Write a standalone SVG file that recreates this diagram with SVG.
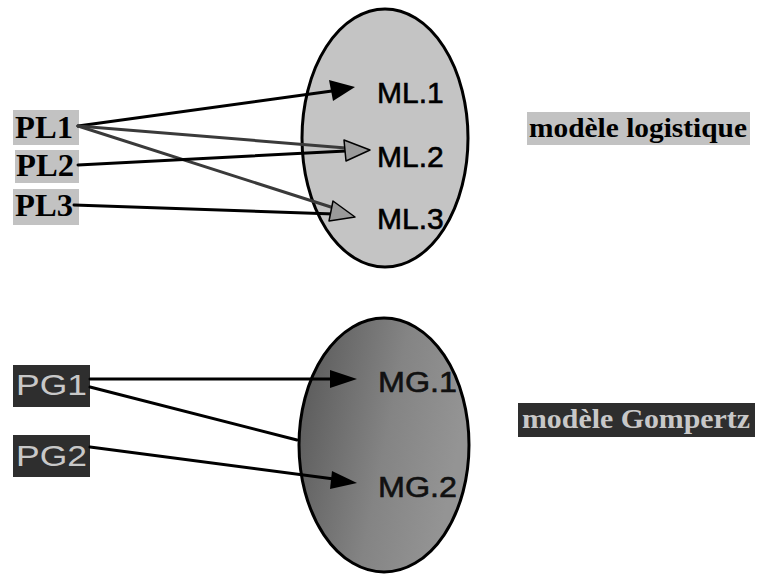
<svg xmlns="http://www.w3.org/2000/svg" width="757" height="574" viewBox="0 0 757 574">
<style>
.ell{stroke:#000;stroke-width:3}
.lbl{font-family:"Liberation Sans",Arial,sans-serif;font-size:30px;fill:#000;stroke:#000;stroke-width:0.6}
.glbl{font-family:"Liberation Sans",Arial,sans-serif;font-size:30px;fill:#111;stroke:#111;stroke-width:0.6}
.pl{font-family:"Liberation Serif","Times New Roman",serif;font-size:32px;font-weight:bold;fill:#000}
.pg{font-family:"Liberation Sans",Arial,sans-serif;font-size:29px;fill:#c8c8c8}
.lightbox{fill:#c2c2c2}
.darkbox{fill:#2e2e2e}
.ln{fill:none;stroke:#000;stroke-width:3;stroke-linecap:round}
.lng{fill:none;stroke:#3a3a3a;stroke-width:3;stroke-linecap:round}
.ah{fill:#000}
.ahg{fill:#9a9a9a;stroke:#000;stroke-width:1.5;stroke-linejoin:round}
.cap{font-family:"Liberation Serif","Times New Roman",serif;font-size:27px;font-weight:bold}
</style>
<defs>
<linearGradient id="gdark" x1="0" y1="0" x2="1" y2="0.3">
<stop offset="0" stop-color="#555"/>
<stop offset="0.6" stop-color="#848484"/>
<stop offset="1" stop-color="#949494"/>
</linearGradient>
</defs>
<rect width="757" height="574" fill="#fff"/>

<g id="ellipse-logistique">
<ellipse class="ell" cx="385" cy="138" rx="83" ry="129" fill="#c4c4c4"/>
</g>
<g id="ellipse-gompertz">
<ellipse class="ell" cx="384" cy="445" rx="85" ry="127" fill="url(#gdark)"/>
</g>

<g id="PL1"><rect class="lightbox" x="13" y="110" width="66" height="35"/><text class="pl" x="15" y="138" textLength="58" lengthAdjust="spacingAndGlyphs">PL1</text></g>
<g id="PL2"><rect class="lightbox" x="15" y="150" width="64" height="33"/><text class="pl" x="16" y="176" textLength="58" lengthAdjust="spacingAndGlyphs">PL2</text></g>
<g id="PL3"><rect class="lightbox" x="13" y="189" width="66" height="36"/><text class="pl" x="15" y="216" textLength="58" lengthAdjust="spacingAndGlyphs">PL3</text></g>

<g id="PG1"><rect class="darkbox" x="13" y="365" width="77" height="42"/><text class="pg" x="16" y="395" textLength="71" lengthAdjust="spacingAndGlyphs">PG1</text></g>
<g id="PG2"><rect class="darkbox" x="13" y="435" width="77" height="42"/><text class="pg" x="16" y="466" textLength="71" lengthAdjust="spacingAndGlyphs">PG2</text></g>

<g id="connectors">
<line class="ln" x1="78" y1="126" x2="332" y2="91"/>
<line class="lng" x1="78" y1="126" x2="346" y2="148"/>
<line class="lng" x1="78" y1="126" x2="334" y2="208"/>
<line class="ln" x1="78" y1="165" x2="346" y2="151"/>
<line class="ln" x1="74" y1="205" x2="334" y2="214"/>
<polygon class="ah" points="355,87 329,80 333,101"/>
<polygon class="ahg" points="370,150 344,140 346,161"/>
<polygon class="ahg" points="355,217 333,201 329,221"/>

<line class="ln" x1="90" y1="379" x2="332" y2="379"/>
<line class="ln" x1="90" y1="387" x2="297" y2="440"/>
<line class="ln" x1="90" y1="447" x2="334" y2="479"/>
<polygon class="ah" points="357,379 330,370 330,388"/>
<polygon class="ah" points="357,483 332,471 330,489"/>
</g>

<g id="ML1"><text class="lbl" x="377" y="103">ML.1</text></g>
<g id="ML2"><text class="lbl" x="377" y="167">ML.2</text></g>
<g id="ML3"><text class="lbl" x="377" y="229">ML.3</text></g>
<g id="MG1"><text class="glbl" x="378" y="392" textLength="79" lengthAdjust="spacingAndGlyphs">MG.1</text></g>
<g id="MG2"><text class="glbl" x="378" y="497" textLength="79" lengthAdjust="spacingAndGlyphs">MG.2</text></g>

<g id="label-logistique"><rect class="lightbox" x="527" y="112" width="223" height="33"/><text class="cap" x="529" y="137" fill="#000" textLength="218" lengthAdjust="spacingAndGlyphs">modèle logistique</text></g>
<g id="label-gompertz"><rect class="darkbox" x="518" y="403" width="237" height="34"/><text class="cap" x="522" y="428" fill="#c8c8c8" textLength="228" lengthAdjust="spacingAndGlyphs">modèle Gompertz</text></g>
</svg>
